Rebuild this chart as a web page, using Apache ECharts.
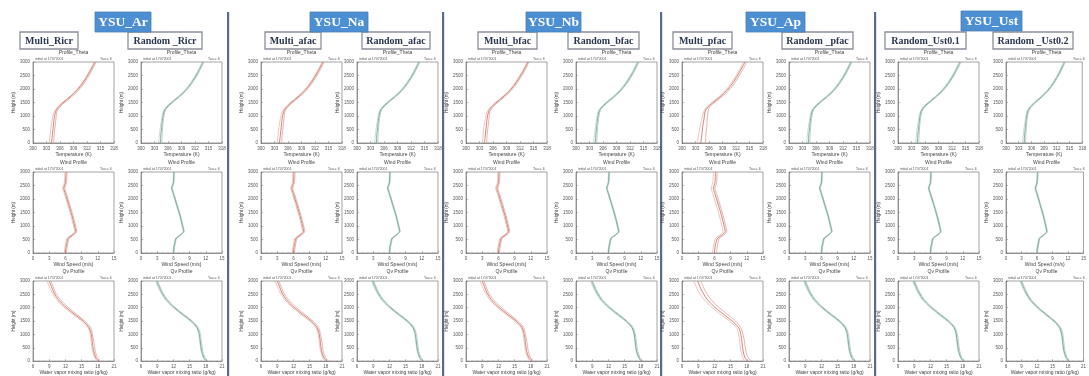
<!DOCTYPE html>
<html><head><meta charset="utf-8">
<script src="https://cdn.jsdelivr.net/npm/echarts@6/dist/echarts.min.js"></script>
<style>html,body{margin:0;padding:0;background:#fff}#c{width:1089px;height:376px}</style>
</head><body><div id="c"></div>
<script>
// ---- data ----
const groupTitles = ['YSU_Ar', 'YSU_Na', 'YSU_Nb', 'YSU_Ap', 'YSU_Ust'];
const panelTitles = ['Multi_Ricr', 'Random _Ricr', 'Multi_afac', 'Random_afac', 'Multi_bfac', 'Random_bfac', 'Multi_pfac', 'Random _pfac', 'Random_Ust0.1', 'Random _Ust0.2'];
const panelKind = ['multi', 'random', 'multi', 'random', 'multi', 'random', 'multiWide', 'random', 'random', 'random'];
const rowTitles = ['Profile_Theta', 'Wind Profile', 'Qv Profile'];
const xNames = ['Temperature (K)', 'Wind Speed (m/s)', 'Water vapor mixing ratio (g/kg)'];
const initText = 'initial at 17072001';
const tauText = 'Tau = 6';
const heightTicks = [0, 500, 1000, 1500, 2000, 2500, 3000];
const thetaTicks = [300, 303, 306, 309, 312, 315, 318];
const windTicks = [0, 3, 6, 9, 12, 15];
const qvTicks = [6, 9, 12, 15, 18, 21];

const hTheta = [0, 300, 600, 900, 1150, 1300, 1480, 1700, 1950, 2250, 2600, 3000];
const thetaMulti = [
  [303.6, 303.8, 304.0, 304.3, 304.7, 305.3, 306.4, 308.0, 309.6, 311.0, 312.3, 313.6],
  [304.1, 304.3, 304.5, 304.7, 305.0, 305.5, 306.6, 308.2, 309.8, 311.2, 312.5, 313.8],
  [304.6, 304.7, 304.9, 305.1, 305.3, 305.8, 306.9, 308.5, 310.1, 311.5, 312.8, 314.0]
];
const thetaMultiWide = [
  [303.4, 303.7, 304.0, 304.4, 304.8, 305.3, 306.5, 308.1, 309.7, 311.1, 312.4, 313.7],
  [304.2, 304.4, 304.6, 304.9, 305.1, 305.6, 306.8, 308.4, 310.0, 311.4, 312.7, 314.0],
  [305.2, 305.3, 305.5, 305.6, 305.8, 306.0, 307.1, 308.8, 310.4, 311.8, 313.1, 314.4]
];
const thetaRandom = [
  [303.9, 304.1, 304.3, 304.6, 304.9, 305.4, 306.5, 308.1, 309.7, 311.1, 312.4, 313.6],
  [304.3, 304.4, 304.6, 304.8, 305.1, 305.6, 306.7, 308.3, 309.9, 311.3, 312.6, 313.8],
  [304.6, 304.7, 304.8, 305.0, 305.3, 305.8, 306.9, 308.5, 310.1, 311.5, 312.8, 314.0]
];

const hWind = [0, 200, 400, 550, 650, 800, 1000, 1400, 1800, 2200, 2400, 2600, 3000];
const windMulti = [
  [5.8, 5.9, 6.1, 6.3, 7.0, 7.7, 7.5, 7.0, 6.4, 5.8, 5.5, 5.8, 5.9],
  [6.0, 6.1, 6.3, 6.5, 7.2, 7.9, 7.7, 7.2, 6.6, 6.0, 5.7, 6.0, 6.1],
  [6.2, 6.3, 6.5, 6.7, 7.4, 8.1, 7.9, 7.4, 6.8, 6.2, 5.9, 6.2, 6.3]
];
const windMultiWide = [
  [5.6, 5.8, 6.0, 6.2, 6.9, 7.6, 7.4, 6.9, 6.3, 5.7, 5.4, 5.7, 5.8],
  [6.0, 6.1, 6.3, 6.6, 7.3, 8.0, 7.8, 7.3, 6.7, 6.1, 5.8, 6.1, 6.2],
  [6.4, 6.5, 6.7, 6.9, 7.6, 8.3, 8.1, 7.6, 7.0, 6.4, 6.1, 6.4, 6.5]
];
const windRandom = [
  [5.9, 6.0, 6.2, 6.4, 7.1, 7.8, 7.6, 7.1, 6.5, 5.9, 5.6, 5.9, 6.0],
  [6.0, 6.1, 6.3, 6.5, 7.2, 7.9, 7.7, 7.2, 6.6, 6.0, 5.7, 6.0, 6.1],
  [6.1, 6.2, 6.4, 6.6, 7.3, 8.0, 7.8, 7.3, 6.7, 6.1, 5.8, 6.1, 6.2]
];

const hQv = [0, 150, 400, 700, 1000, 1250, 1500, 1800, 2050, 2300, 2550, 2800, 3000];
const qvMulti = [
  [17.8, 17.4, 17.0, 16.8, 16.6, 16.2, 15.0, 13.1, 11.6, 10.4, 9.6, 9.0, 8.6],
  [18.1, 17.6, 17.2, 17.0, 16.8, 16.4, 15.3, 13.4, 11.9, 10.7, 9.9, 9.4, 9.0],
  [18.5, 17.9, 17.5, 17.3, 17.0, 16.7, 15.6, 13.8, 12.3, 11.1, 10.2, 9.7, 9.3]
];
const qvMultiWide = [
  [17.6, 17.2, 16.9, 16.7, 16.5, 16.1, 14.8, 12.8, 11.3, 10.1, 9.2, 8.6, 8.2],
  [18.1, 17.6, 17.3, 17.1, 16.9, 16.5, 15.3, 13.4, 11.9, 10.7, 9.9, 9.3, 8.9],
  [18.8, 18.2, 17.8, 17.6, 17.3, 16.9, 15.9, 14.1, 12.6, 11.4, 10.5, 9.9, 9.5]
];
const qvRandom = [
  [17.9, 17.5, 17.1, 16.9, 16.7, 16.3, 15.1, 13.2, 11.7, 10.5, 9.7, 9.1, 8.7],
  [18.1, 17.6, 17.2, 17.0, 16.8, 16.4, 15.3, 13.4, 11.9, 10.7, 9.9, 9.3, 8.9],
  [18.4, 17.8, 17.4, 17.2, 17.0, 16.6, 15.5, 13.6, 12.1, 10.9, 10.1, 9.5, 9.1]
];

// ---- layout (positions / styles) ----
const colLeft = [33, 141, 261, 357, 466, 576, 682, 789, 898, 1006];
const rowTop = [62, 172, 281];
const PW = 81, PH = 81;
const sepX = [228, 443, 661, 875];
const groupBox = [[95, 12, 56, 20], [310, 12, 58, 20], [526, 12, 55, 20], [746, 12, 59, 20], [961, 11, 61, 20]];
const panelBox = [[20, 32, 58, 17], [128, 32, 74, 17], [265, 32, 56, 17], [362, 32, 68, 17], [478, 32, 59, 17], [568, 32, 71, 17], [673, 32, 59, 17], [782, 32, 71, 17], [885, 32, 81, 17], [993, 32, 80, 17]];

const rowData = {
  multi: [thetaMulti, windMulti, qvMulti],
  multiWide: [thetaMultiWide, windMultiWide, qvMultiWide],
  random: [thetaRandom, windRandom, qvRandom]
};
const rowH = [hTheta, hWind, hQv];
const rowTicks = [thetaTicks, windTicks, qvTicks];
const colors = {
  multi: ['#e6aca0', '#c4685e', '#dc9488'],
  multiWide: ['#e6aca0', '#c4685e', '#dc9488'],
  random: ['#b0ccc5', '#6a978d', '#95b8b0']
};

const grids = [], xAxes = [], yAxes = [], series = [], graphics = [];
const tiny = {fontSize: 4.5, color: '#555', fontFamily: 'Liberation Sans'};
let gi = 0;
for (let r = 0; r < 3; r++) {
  for (let c = 0; c < 10; c++) {
    const L = colLeft[c], T = rowTop[r];
    grids.push({left: L, top: T, width: PW, height: PH, show: true, borderColor: '#666', borderWidth: 0.6, backgroundColor: '#fff'});
    const ticks = rowTicks[r];
    xAxes.push({
      type: 'value', gridIndex: gi, min: ticks[0], max: ticks[ticks.length - 1], interval: ticks[1] - ticks[0],
      name: xNames[r], nameLocation: 'middle', nameGap: 8,
      nameTextStyle: {fontSize: 5, color: '#444', fontFamily: 'Liberation Sans'},
      axisLine: {lineStyle: {color: '#666', width: 0.6}},
      axisTick: {inside: true, length: 2, lineStyle: {color: '#777', width: 0.5}},
      minorTick: {show: true, splitNumber: 3, length: 1, lineStyle: {color: '#999', width: 0.4}},
      axisLabel: Object.assign({margin: 3, formatter: v => String(v)}, tiny), splitLine: {show: false}
    });
    yAxes.push({
      type: 'value', gridIndex: gi, min: heightTicks[0], max: heightTicks[heightTicks.length - 1], interval: heightTicks[1] - heightTicks[0],
      name: 'Height (m)', nameLocation: 'middle', nameGap: 17, nameRotate: 90,
      nameTextStyle: {fontSize: 4.5, color: '#444', fontFamily: 'Liberation Sans'},
      axisLine: {lineStyle: {color: '#666', width: 0.6}},
      axisTick: {inside: true, length: 2, lineStyle: {color: '#777', width: 0.5}},
      minorTick: {show: true, splitNumber: 5, length: 1, lineStyle: {color: '#999', width: 0.4}},
      axisLabel: Object.assign({margin: 3, formatter: v => String(v)}, tiny), splitLine: {show: false}
    });
    const kind = panelKind[c];
    const members = rowData[kind][r];
    members.forEach((vals, m) => {
      series.push({
        type: 'line', xAxisIndex: gi, yAxisIndex: gi, showSymbol: false, smooth: 0.3,
        lineStyle: {color: colors[kind][m], width: m === 1 ? 0.8 : 0.7},
        data: vals.map((v, k) => [v, rowH[r][k]]), silent: true, animation: false
      });
    });
    graphics.push({type: 'text', x: L + PW / 2, y: T - 9, z: 20, style: {text: rowTitles[r], fontSize: 5, fill: '#444', fontFamily: 'Liberation Sans', align: 'center', verticalAlign: 'middle'}});
    graphics.push({type: 'text', left: L + 2, top: T - 5, style: {text: initText, fontSize: 3.5, fill: '#555', fontFamily: 'Liberation Sans'}});
    graphics.push({type: 'text', left: L + PW - 14, top: T - 5, style: {text: tauText, fontSize: 3.5, fill: '#555', fontFamily: 'Liberation Sans'}});
    gi++;
  }
}
sepX.forEach(x => graphics.push({type: 'rect', shape: {x: x - 1, y: 12, width: 2.2, height: 364}, style: {fill: '#5b6b8c'}}));
panelBox.forEach((b, i) => {
  graphics.push({type: 'rect', shape: {x: b[0], y: b[1], width: b[2], height: b[3]}, style: {fill: '#fff', stroke: '#8c8f9c', lineWidth: 1.3}});
  graphics.push({type: 'text', x: b[0] + b[2] / 2, y: b[1] + b[3] / 2 + 0.5, style: {text: panelTitles[i], fontSize: 10, fontWeight: 'bold', fill: '#2b3650', fontFamily: 'Liberation Serif', align: 'center', verticalAlign: 'middle'}});
});
groupBox.forEach((b, i) => {
  graphics.push({type: 'rect', shape: {x: b[0], y: b[1], width: b[2], height: b[3]}, style: {fill: '#4d8fd3', stroke: '#4a7fb8', lineWidth: 0.8}});
  graphics.push({type: 'text', x: b[0] + b[2] / 2, y: b[1] + b[3] / 2 + 0.5, style: {text: groupTitles[i], fontSize: 13.5, fontWeight: 'bold', fill: '#fff', fontFamily: 'Liberation Serif', align: 'center', verticalAlign: 'middle'}});
});

const chart = echarts.init(document.getElementById('c'), null, {renderer: 'canvas'});
chart.setOption({backgroundColor: '#fff', animation: false, grid: grids, xAxis: xAxes, yAxis: yAxes, series: series, graphic: graphics});
</script></body></html>
